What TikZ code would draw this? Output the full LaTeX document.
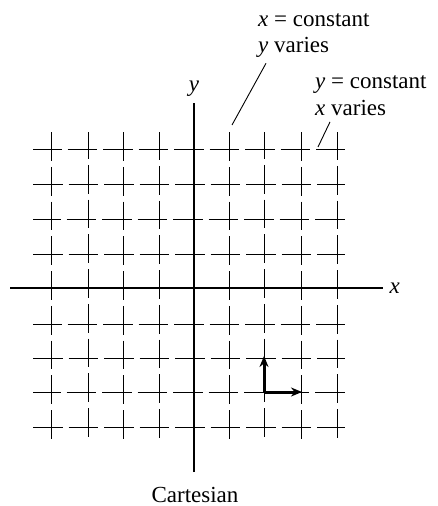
\documentclass[tikz,border=0pt]{standalone}
\usepackage{fontspec}
\setmainfont{Liberation Serif}
\usetikzlibrary{arrows.meta,positioning}

\begin{document}
\begin{tikzpicture}[x=1pt,y=-1pt,>=Stealth,font=\fontsize{23}{26}\selectfont,
  gridh/.style={line width=1pt,dash pattern=on 29.5pt off 6pt},
  gridv/.style={line width=1pt,dash pattern=on 28.75pt off 6pt},
  axis/.style={line width=1.4pt},
  lbl/.style={inner sep=0pt,anchor=west},
  unitvec/.style={line width=3pt,-{Stealth[length=11pt,width=9pt]}}]
\useasboundingbox (0,0) rectangle (438,506);
% grid
\foreach \y/\p in {149/1,184/0,219/2,254/0,324/1,358/0,392/2,427/0}
  \draw[gridh,dash phase=\p pt] (33,\y)--(345,\y);
\foreach \x/\p in {51/0,88/2,123/0,159/1,229/0,264/2,301/0,337/1}
  \draw[gridv,dash phase=\p pt] (\x,132)--(\x,440);
% axes
\coordinate (xl) at (10,288);
\coordinate (xr) at (383,288);
\coordinate (yt) at (194,103);
\coordinate (yb) at (194,472);
\draw[axis] (xl)--(xr) node[right=6pt,inner sep=0pt] (xlab) {\textit{x}};
\draw[axis] (yb)--(yt) node[above=6pt,inner sep=0pt] (ylab) {\textit{y}};
% labels
\node[lbl] (xconst) at (258,20) {\textit{x} = constant};
\node[lbl] (yvar) at (258,47) {\textit{y} varies};
\node[lbl] (yconst) at (315,85) {\textit{y} = constant};
\node[lbl] (xvar) at (315,108) {\textit{x} varies};
\coordinate (tip1) at (232,125);
\coordinate (tip2) at (318,147);
\draw[line width=0.9pt] ([shift={(8,6)}]yvar.south west)--(tip1);
\draw[line width=0.9pt] ([shift={(15,6)}]xvar.south west)--(tip2);
% unit vectors
\coordinate (o) at (264,392);
\draw[unitvec] (o)--(264,356);
\draw[unitvec] (o)--(302,392);
\node (cap) at (195,495) {Cartesian};
\end{tikzpicture}
\end{document}
